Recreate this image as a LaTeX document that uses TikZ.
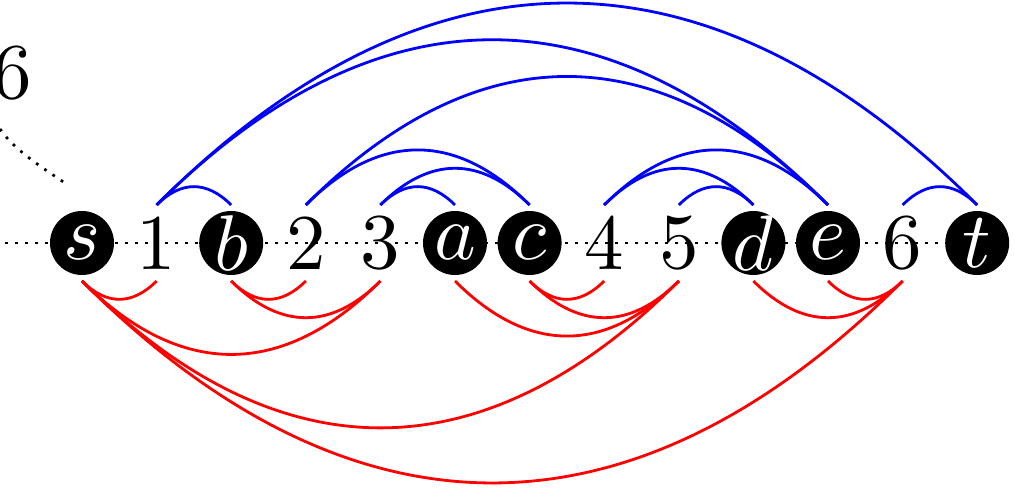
\documentclass[tikz,border=0pt]{standalone}
\usepackage{graphicx}
\begin{document}
\begin{tikzpicture}[x=1pt,y=1pt,
  vx/.style={circle,fill=black,text=white,minimum size=64,inner sep=0pt,outer sep=6pt},
  nx/.style={circle,minimum size=64,inner sep=0pt,outer sep=6pt},
  dotline/.style={line width=2.7,dash pattern=on 2.7 off 7.3},
  up/.style={blue,line width=2.8,out=45,in=135,looseness=1.19},
  dn/.style={red,line width=2.8,out=-45,in=-135,looseness=1.19}]
\path[use as bounding box] (0,0) rectangle (1015,497);
\clip (0,0) rectangle (1015,497);
\newcommand{\lb}[1]{\makebox[0pt]{\scalebox{7.9}{\normalsize #1}}}
% background dotted line
\coordinate (L) at (5.3,254);
\coordinate (R) at (1015,254);
\draw[dotline] (L) -- (R);
% top-left fragment
\node[anchor=base,inner sep=0pt] (six) at (12,398) {\lb{6}};
\coordinate (p0) at (0,368);
\coordinate (p1) at (65,314);
\draw[dotline] (p0) .. controls (14,347) and (44.3,328) .. (p1);
% nodes
\node[vx] (s)  at (82.0,254)  {\lb{$s$}};
\node[nx] (n1) at (156.6,254) {\lb{1}};
\node[vx] (b)  at (231.2,254) {\lb{$b$}};
\node[nx] (n2) at (305.8,254) {\lb{2}};
\node[nx] (n3) at (380.4,254) {\lb{3}};
\node[vx] (a)  at (455.0,254) {\lb{$a$}};
\node[vx] (c)  at (529.6,254) {\lb{$c$}};
\node[nx] (n4) at (604.2,254) {\lb{4}};
\node[nx] (n5) at (678.8,254) {\lb{5}};
\node[vx] (d)  at (753.4,254) {\lb{$d$}};
\node[vx] (e)  at (828.0,254) {\lb{$e$}};
\node[nx] (n6) at (902.6,254) {\lb{6}};
\node[vx] (t)  at (977.2,254) {\lb{$t$}};
% blue arcs
\draw[up] (n1.north) to (b.north);
\draw[up] (n1.north) to (e.north);
\draw[up] (n1.north) to (t.north);
\draw[up] (n2.north) to (c.north);
\draw[up] (n2.north) to (e.north);
\draw[up] (n3.north) to (a.north);
\draw[up] (n3.north) to (c.north);
\draw[up] (n4.north) to (d.north);
\draw[up] (n4.north) to (e.north);
\draw[up] (n5.north) to (d.north);
\draw[up] (n6.north) to (t.north);
% red arcs
\draw[dn] (s.south) to (n1.south);
\draw[dn] (s.south) to (n3.south);
\draw[dn] (s.south) to (n5.south);
\draw[dn] (s.south) to (n6.south);
\draw[dn] (b.south) to (n2.south);
\draw[dn] (b.south) to (n3.south);
\draw[dn] (a.south) to (n5.south);
\draw[dn] (c.south) to (n4.south);
\draw[dn] (c.south) to (n5.south);
\draw[dn] (d.south) to (n6.south);
\draw[dn] (e.south) to (n6.south);
\end{tikzpicture}
\end{document}
